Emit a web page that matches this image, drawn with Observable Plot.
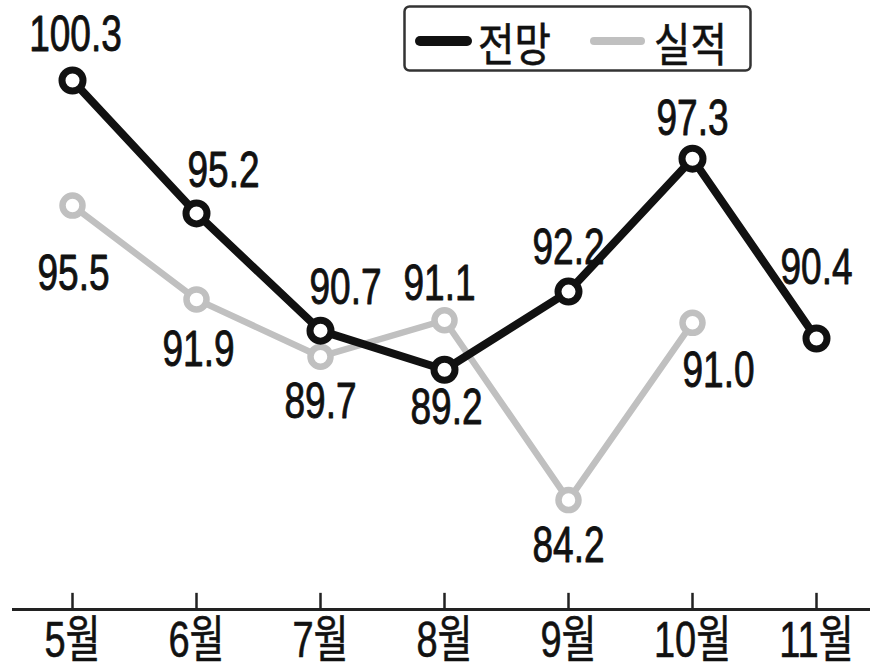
<!DOCTYPE html>
<html>
<head>
<meta charset="utf-8">
<script src="https://cdn.jsdelivr.net/npm/d3@7"></script>
<script src="https://cdn.jsdelivr.net/npm/@observablehq/plot@0.6"></script>
<style>
  html, body { margin: 0; padding: 0; background: #fff; }
  #wrap { position: relative; width: 883px; height: 666px; overflow: hidden; }
  #legend { position: absolute; left: 403px; top: 5px; }
</style>
</head>
<body>
<div id="wrap"></div>
<script>
// ---- data ----
const months = ["5월", "6월", "7월", "8월", "9월", "10월", "11월"];
const forecast = [100.3, 95.2, 90.7, 89.2, 92.2, 97.3, 90.4];      // 전망
const actual = [95.5, 91.9, 89.7, 91.1, 84.2, 91.0];               // 실적 (11월 없음)
const seriesNames = ["전망", "실적"];

// label placement (offset of the value label from its point, in px)
const forecastLabelOffsets = [[3, -46], [27, -42], [25, -43], [2, 38], [0, -44], [0, -40], [0, -70]];
const actualLabelOffsets = [[1, 68], [2, 51], [0, 45], [-5, -36], [0, 46], [26, 48]];

const BLACK = "#111";
const GRAY = "#c0c0c0";
const FONT = "'Liberation Sans', Arial, 'Noto Sans CJK KR', sans-serif";

const fData = months.map((m, i) => ({month: m, value: forecast[i], dx: forecastLabelOffsets[i][0], dy: forecastLabelOffsets[i][1]}));
const aData = actual.map((v, i) => ({month: months[i], value: v, dx: actualLabelOffsets[i][0], dy: actualLabelOffsets[i][1]}));

function labels(data) {
  return data.map(d => Plot.text([d], {
    x: "month", y: "value", text: d => d.value.toFixed(1),
    dx: d.dx, dy: d.dy, lineAnchor: "middle", fontSize: 50,
    fill: BLACK, stroke: BLACK, strokeWidth: 0.9, className: "num"
  }));
}

const chart = Plot.plot({
  width: 883,
  height: 666,
  marginLeft: 12,
  marginRight: 13,
  marginTop: 0,
  marginBottom: 57,
  x: {type: "point", domain: months, range: [70, 818], padding: 0, axis: null},
  y: {domain: [80, 103.37], axis: null},
  style: {fontFamily: FONT, background: "#fff", overflow: "visible"},
  marks: [
    Plot.ruleY([80], {stroke: "#222", strokeWidth: 3}),
    Plot.ruleX(months, {x: d => d, y1: 80, y2: 80.62, stroke: "#222", strokeWidth: 2.5}),
    Plot.line(aData, {x: "month", y: "value", stroke: GRAY, strokeWidth: 6.5, strokeLinejoin: "round"}),
    Plot.dot(aData, {x: "month", y: "value", r: 10, fill: "#fff", stroke: GRAY, strokeWidth: 6.5}),
    Plot.line(fData, {x: "month", y: "value", stroke: BLACK, strokeWidth: 8, strokeLinejoin: "round"}),
    Plot.dot(fData, {x: "month", y: "value", r: 10.5, fill: "#fff", stroke: BLACK, strokeWidth: 7}),
    ...labels(fData),
    ...labels(aData),
    Plot.text(months, {x: d => d, frameAnchor: "bottom", dy: 31, lineAnchor: "middle",
      fontSize: 50, fill: BLACK, stroke: BLACK, strokeWidth: 0.6, className: "mon"})
  ]
});

document.getElementById("wrap").appendChild(chart);

// legend
const lg = document.createElementNS("http://www.w3.org/2000/svg", "svg");
lg.setAttribute("width", 356);
lg.setAttribute("height", 78);
lg.innerHTML = `
  <rect x="1.5" y="1.5" width="346" height="64" rx="5" fill="#fff" stroke="#333" stroke-width="2.5"/>
  <line x1="17" y1="36" x2="64" y2="36" stroke="${BLACK}" stroke-width="10" stroke-linecap="round"/>
  <text class="lgt" x="75" y="36" dominant-baseline="central" font-size="46" fill="${BLACK}"
    stroke="${BLACK}" stroke-width="0.6" font-family="'Noto Sans CJK KR', sans-serif">${seriesNames[0]}</text>
  <line x1="191" y1="36" x2="238" y2="36" stroke="${GRAY}" stroke-width="8" stroke-linecap="round"/>
  <text class="lgt" x="251" y="36" dominant-baseline="central" font-size="46" fill="${BLACK}"
    stroke="${BLACK}" stroke-width="0.6" font-family="'Noto Sans CJK KR', sans-serif">${seriesNames[1]}</text>`;
const lgDiv = document.createElement("div");
lgDiv.id = "legend";
lgDiv.appendChild(lg);
document.getElementById("wrap").appendChild(lgDiv);

// horizontal condensing of the text, like the reference's narrow type
function condense(sel, factor, root) {
  root.querySelectorAll(sel).forEach(t => {
    const len = t.getComputedTextLength();
    if (len > 0) {
      t.setAttribute("textLength", (len * factor).toFixed(1));
      t.setAttribute("lengthAdjust", "spacingAndGlyphs");
    }
  });
}
condense(".num text", 0.74, chart);
condense(".mon text", 0.76, chart);
condense("text.lgt", 0.86, lg);
</script>
</body>
</html>
